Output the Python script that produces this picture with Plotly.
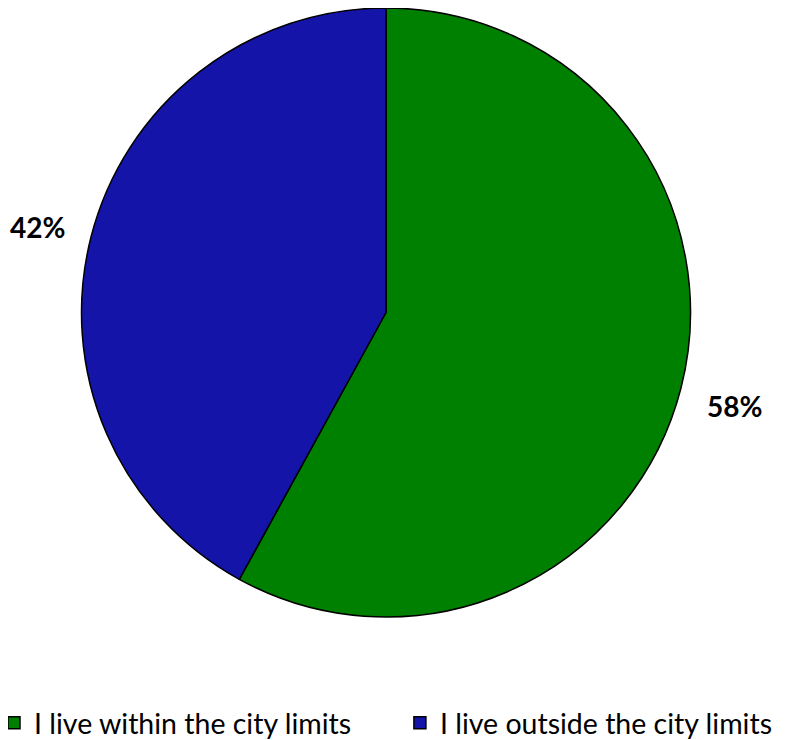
import math
import plotly.graph_objects as go

labels = ["I live within the city limits", "I live outside the city limits"]
values = [58, 42]
colors = ["#008000", "#1414A8"]

W, H = 790, 740
dom_x = [73 / W, 683 / W]
dom_y = [1 - 609 / H, 1.0]

# legend text (first entry padded so the second entry sits further right)
legend_names = [labels[0] + "\u00a0" * 6, labels[1]]

fig = go.Figure(go.Pie(
    labels=legend_names, values=values, sort=False, direction="clockwise", rotation=0,
    marker=dict(colors=colors, line=dict(color="black", width=1.5)),
    textinfo="none", hoverinfo="label+percent",
    domain=dict(x=dom_x, y=dom_y),
))

# percentage labels placed outside the slices, computed from the data
cx = (dom_x[0] + dom_x[1]) / 2 * W
cy = (dom_y[0] + dom_y[1]) / 2 * H
r = min((dom_x[1] - dom_x[0]) * W, (dom_y[1] - dom_y[0]) * H) / 2
total = sum(values)
cum = 0
for v in values:
    mid = (cum + v / 2) / total * 2 * math.pi
    cum += v
    d = r * 1.18
    px = cx + d * math.sin(mid)
    py = cy + d * math.cos(mid) - 4
    fig.add_annotation(x=px / W, y=py / H, xref="paper", yref="paper",
                       xanchor="center", yanchor="middle",
                       text=f"<b>{round(v / total * 100)}%</b>", showarrow=False,
                       font=dict(size=28, color="black", family="Lato"))

fig.update_layout(
    width=W, height=H, margin=dict(l=0, r=0, t=0, b=0, autoexpand=False),
    paper_bgcolor="white", plot_bgcolor="white",
    font=dict(family="Lato", color="black"),
    showlegend=True,
    legend=dict(orientation="h", x=-14 / W, xanchor="left", y=-0.001, yanchor="bottom",
                font=dict(size=28.5, family="Lato", color="black"),
                traceorder="normal", itemwidth=30),
)

fig.write_html("out.html")
